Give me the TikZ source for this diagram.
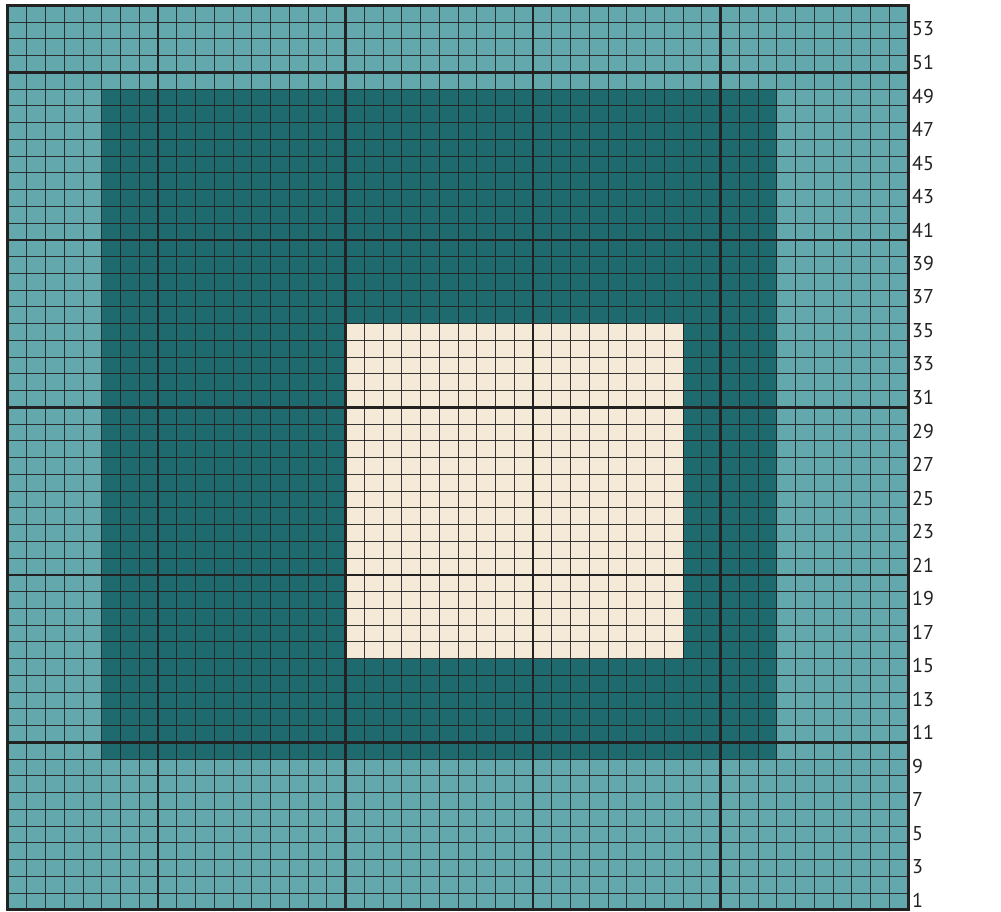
\documentclass[tikz,border=0pt]{standalone}
\usepackage{fontspec}
\setmainfont{PT Sans}
\usepackage{tikz}
\usetikzlibrary{calc,positioning}
\definecolor{lightteal}{RGB}{99,168,172}
\definecolor{darkteal}{RGB}{31,106,110}
\definecolor{cream}{RGB}{245,234,215}
\definecolor{gridline}{RGB}{34,34,34}

\begin{document}
\begin{tikzpicture}[x=18.75pt,y=16.75pt,
  thin grid/.style={draw=gridline,line width=1pt,opacity=0.9},
  thick grid/.style={draw=gridline,line width=2.4pt},
  rowlabel/.style={anchor=west,inner sep=0pt,font=\fontsize{20}{20}\selectfont,text=gridline}]
  \useasboundingbox ($(0,0)+(-8pt,-2pt)$) rectangle ($(0,0)+(993pt,910pt)$);
  % colour blocks
  \fill[lightteal] (0,0) rectangle (48,54);
  \fill[darkteal] (5,9) rectangle (41,49);
  \fill[cream] (18,15) rectangle (36,35);
  % grid
  \foreach \i in {1,...,47}{
  	\draw[thin grid] (\i,0)--(\i,54);
	}
  \foreach \j in {1,...,53}{
  	\draw[thin grid] (0,\j)--(48,\j);
	}
  \foreach \i in {8,18,28,38}{
  	\draw[thick grid] (\i,0)--(\i,54);
	}
  \foreach \j in {10,20,30,40,50}{
  	\draw[thick grid] (0,\j)--(48,\j);
	}
  \draw[draw=gridline,line width=3pt] (0,0) rectangle (48,54);
  % row numbers
  \foreach \j in {1,3,...,53}{
  	\node[rowlabel] (row\j) at ($(48,\j-0.5)+(4pt,1.5pt)$) {\j};
	}
\end{tikzpicture}
\end{document}
